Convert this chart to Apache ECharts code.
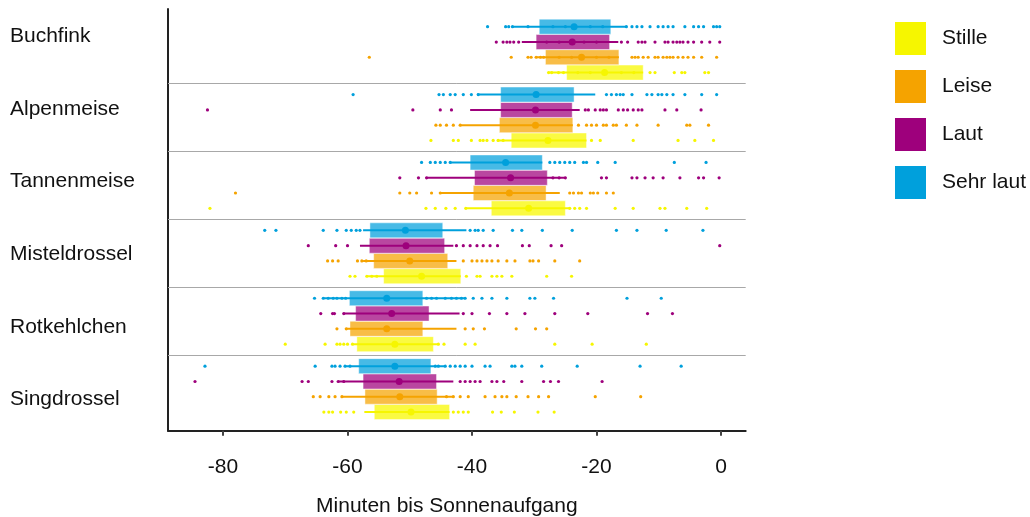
<!DOCTYPE html>
<html><head><meta charset="utf-8">
<script src="https://cdn.jsdelivr.net/npm/echarts@6/dist/echarts.min.js"></script>
<style>html,body{margin:0;padding:0;background:#fff}#c{width:1030px;height:517px}</style>
</head><body><div id="c"></div>
<script>
// ---------- DATA ----------
const species = ['Buchfink','Alpenmeise','Tannenmeise','Misteldrossel','Rotkehlchen','Singdrossel'];
const levels = ['Stille','Leise','Laut','Sehr laut'];
const xTicks = [-80,-60,-40,-20,0];

// box stats per species: [whisker low, q1, median, q3, whisker high]
const stilleBox = [
  [-27.7,-24.8,-18.7,-12.5,-12.5],
  [-36.0,-33.7,-27.8,-21.6,-21.6],
  [-41.0,-36.9,-30.9,-25.0,-24.3],
  [-56.9,-54.2,-48.1,-41.8,-41.8],
  [-59.2,-58.5,-52.4,-46.2,-45.4],
  [-57.3,-55.7,-49.8,-43.6,-43.6]
];
const leiseBox = [
  [-29.7,-28.2,-22.4,-16.4,-16.4],
  [-41.9,-35.6,-29.8,-23.8,-23.8],
  [-45.1,-39.8,-34.0,-28.1,-25.9],
  [-57.5,-55.8,-50.0,-43.9,-42.5],
  [-60.2,-59.6,-53.7,-47.9,-42.5],
  [-61.0,-57.2,-51.6,-45.6,-43.0]
];
const lautBox = [
  [-32.0,-29.7,-23.9,-17.9,-16.5],
  [-40.3,-35.4,-29.8,-23.9,-22.7],
  [-47.3,-39.6,-33.8,-27.9,-25.0],
  [-58.0,-56.5,-50.6,-44.4,-43.0],
  [-60.6,-58.7,-52.9,-46.9,-42.0],
  [-61.5,-57.5,-51.7,-45.7,-43.0]
];
const sehrLautBox = [
  [-33.5,-29.2,-23.6,-17.7,-15.2],
  [-39.2,-35.4,-29.7,-23.6,-20.2],
  [-43.5,-40.3,-34.6,-28.7,-28.7],
  [-57.5,-56.4,-50.7,-44.7,-40.9],
  [-63.9,-59.7,-53.7,-47.9,-41.1],
  [-60.4,-58.2,-52.4,-46.6,-44.3]
];

// individual observations per species
const stillePoints = [
  [-27.7,-27.2,-26.1,-25.3,-23,-21,-16,-14,-11.4,-10.6,-7.5,-6.3,-5.8,-2.6,-2.0],
  [-46.6,-43.0,-42.2,-40.1,-38.7,-38.2,-37.6,-36.6,-35.8,-35.0,-20.8,-19.4,-14.1,-6.9,-4.2,-1.2],
  [-82.1,-47.4,-45.9,-44.2,-42.7,-41.0,-24.3,-23.5,-22.7,-21.6,-17.0,-14.1,-9.8,-9.0,-5.5,-2.3],
  [-59.6,-58.8,-56.9,-56.1,-55.3,-40.9,-39.2,-38.7,-36.8,-36.0,-35.2,-33.6,-28.0,-24.0],
  [-70.0,-63.6,-61.7,-61.2,-60.6,-60.0,-59.2,-45.4,-44.5,-41.1,-39.5,-26.7,-20.7,-12.0],
  [-63.8,-63.0,-62.4,-61.1,-60.2,-59.0,-43.0,-42.2,-41.4,-40.6,-36.7,-35.3,-33.2,-29.4,-26.8]
];
const leisePoints = [
  [-56.5,-33.7,-31.0,-30.5,-29.7,-29.0,-28.5,-26,-24,-20,-18,-14.3,-13.8,-13.3,-12.5,-11.7,-10.6,-10.1,-9.3,-8.7,-8.2,-7.7,-6.9,-6.1,-5.3,-4.4,-3.1,-0.7],
  [-45.8,-45.1,-44.1,-43.0,-41.9,-22.9,-21.6,-20.8,-20.0,-18.9,-18.4,-17.3,-16.8,-15.2,-13.5,-10.1,-5.5,-5.0,-2.0],
  [-78.0,-51.6,-50.0,-48.9,-46.5,-45.1,-24.3,-23.7,-22.9,-22.4,-21.0,-20.5,-19.8,-18.4,-17.3],
  [-63.2,-62.4,-61.5,-58.4,-57.7,-57.0,-41.4,-40.0,-39.2,-38.4,-37.6,-36.8,-35.8,-34.4,-33.1,-30.7,-30.2,-29.3,-26.7,-22.7],
  [-61.7,-60.2,-41.1,-39.8,-38.0,-32.9,-29.8,-28.0],
  [-65.5,-64.4,-63.0,-62.0,-60.9,-44.1,-43.0,-41.9,-40.6,-37.9,-36.3,-35.2,-34.4,-32.9,-31.0,-29.3,-27.7,-20.2,-12.9]
];
const lautPoints = [
  [-36.1,-35.0,-34.4,-33.9,-33.3,-32.5,-28,-26,-22,-20,-16.0,-15.0,-13.3,-12.7,-12.2,-10.6,-9.0,-8.5,-7.7,-7.1,-6.6,-6.1,-5.3,-4.4,-3.1,-1.8,-0.2],
  [-82.5,-49.5,-45.1,-43.3,-21.8,-21.3,-20.2,-19.4,-18.9,-18.4,-16.5,-15.7,-15.0,-14.1,-13.3,-12.7,-9.0,-7.1,-3.2],
  [-51.6,-48.6,-47.3,-27,-26,-25,-19.2,-18.4,-14.3,-13.5,-12.2,-10.9,-9.3,-6.6,-3.6,-2.8,-0.3],
  [-66.3,-61.9,-60.0,-42.5,-41.4,-40.3,-39.2,-38.2,-37.1,-35.9,-31.9,-30.8,-27.3,-25.6,-0.2],
  [-64.3,-62.4,-62.1,-60.6,-41.4,-40.0,-37.2,-34.4,-31.5,-26.7,-21.4,-11.8,-7.8],
  [-84.5,-67.3,-66.3,-62.5,-61.5,-60.6,-41.9,-41.1,-40.3,-39.5,-38.7,-36.8,-36.0,-34.9,-32.0,-28.5,-27.4,-26.1,-19.1]
];
const sehrLautPoints = [
  [-37.5,-34.6,-34.1,-33.5,-31,-27,-25,-21,-19,-15.2,-14.3,-13.5,-12.7,-11.4,-10.1,-9.3,-8.5,-7.7,-5.8,-4.4,-3.6,-2.8,-1.2,-0.7,-0.2],
  [-59.1,-45.3,-44.6,-43.5,-42.7,-41.4,-40.1,-39.0,-18.4,-17.6,-16.8,-16.2,-15.7,-14.3,-11.9,-11.1,-10.1,-9.5,-8.7,-7.7,-5.8,-3.1,-0.7],
  [-48.1,-46.7,-45.9,-45.1,-44.3,-43.5,-27.5,-26.7,-25.9,-25.1,-24.3,-23.5,-22.1,-21.6,-19.8,-17.0,-7.5,-2.4],
  [-73.3,-71.5,-63.9,-61.7,-60.2,-59.4,-58.6,-58.0,-40.3,-39.5,-39.0,-38.2,-36.6,-33.5,-32.0,-28.7,-23.9,-16.8,-13.5,-8.8,-2.9],
  [-65.3,-63.9,-63.1,-62.3,-61.7,-60.9,-60.3,-47.3,-46.5,-45.7,-44.3,-43.3,-42.5,-41.7,-41.1,-39.8,-38.4,-36.8,-34.4,-30.7,-29.9,-26.9,-15.1,-9.6],
  [-82.9,-65.2,-62.5,-62.0,-61.2,-60.4,-59.6,-45.9,-45.4,-44.3,-43.5,-42.7,-41.9,-41.1,-40.0,-37.9,-37.1,-33.6,-33.1,-32.0,-28.8,-23.1,-13.0,-6.4]
];

// ---------- STYLE / LAYOUT ----------
const FONT = "'Liberation Sans', Arial, Helvetica, sans-serif";
const colors = {'Stille':'#f6f600','Leise':'#f5a300','Laut':'#9e007c','Sehr laut':'#00a0dc'};
const fills  = {'Stille':'rgba(248,248,0,0.74)','Leise':'rgba(245,163,0,0.72)','Laut':'rgba(158,0,124,0.72)','Sehr laut':'rgba(0,160,220,0.72)'};
const rowOffset = {'Sehr laut':-0.338,'Laut':-0.112,'Leise':0.112,'Stille':0.338};
const boxes = {'Stille':stilleBox,'Leise':leiseBox,'Laut':lautBox,'Sehr laut':sehrLautBox};
const points = {'Stille':stillePoints,'Leise':leisePoints,'Laut':lautPoints,'Sehr laut':sehrLautPoints};

function renderBox(level){
  const c = colors[level], f = fills[level];
  return function(params, api){
    const y = api.value(5);
    const lo = api.coord([api.value(0), y]);
    const q1 = api.coord([api.value(1), y]);
    const md = api.coord([api.value(2), y]);
    const q3 = api.coord([api.value(3), y]);
    const hi = api.coord([api.value(4), y]);
    const h = 15;
    return {type:'group', children:[
      {type:'rect', shape:{x:q1[0], y:q1[1]-h/2, width:q3[0]-q1[0], height:h},
       style:{fill:f, stroke:'rgba(255,255,255,0.45)', lineWidth:1}},
      {type:'line', shape:{x1:lo[0], y1:lo[1], x2:hi[0], y2:hi[1]}, style:{stroke:c, lineWidth:2}},
      {type:'circle', shape:{cx:md[0], cy:md[1], r:3.5}, style:{fill:c}}
    ]};
  };
}

const series = [];
levels.forEach((lv, li) => {
  series.push({
    type:'custom', name:lv, xAxisIndex:0, yAxisIndex:0, z:2,
    renderItem: renderBox(lv),
    itemStyle:{color:colors[lv]},
    encode:{x:[0,1,2,3,4], y:5},
    data: boxes[lv].map((b, s) => b.concat([s + rowOffset[lv]])),
    markLine: li === 0 ? {
      silent:true, symbol:['none','none'], label:{show:false},
      lineStyle:{color:'#a8a8a8', width:1, type:'solid'},
      data: species.slice(1).map((_, i) => ({yAxis: i + 0.5}))
    } : undefined
  });
  const pts = [];
  points[lv].forEach((arr, s) => arr.forEach(v => pts.push([v, s + rowOffset[lv]])));
  series.push({
    type:'scatter', name:lv, xAxisIndex:0, yAxisIndex:0, z:3,
    symbol:'circle', symbolSize:3.2, itemStyle:{color:colors[lv], opacity:1},
    data: pts
  });
});

const chart = echarts.init(document.getElementById('c'), null, {renderer:'canvas'});
chart.setOption({
  animation:false,
  backgroundColor:'#fff',
  textStyle:{fontFamily:FONT},
  legend:{
    orient:'vertical', left:890, top:17, itemWidth:31, itemHeight:33, itemGap:15,
    icon:'rect', data: levels,
    textStyle:{fontSize:21, color:'#111', fontFamily:FONT, padding:[0,0,0,11]}
  },
  grid:[
    {left:168, right:284.3, top:9, bottom:86.3, containLabel:false, outerBoundsMode:'none'},
    {left:168, right:284.3, top:0, height:436, containLabel:false, outerBoundsMode:'none'}
  ],
  xAxis:[
    {type:'value', gridIndex:0, min:-88.84, max:3.97,
     axisLine:{show:true, onZero:false, lineStyle:{color:'#222', width:2}},
     axisTick:{show:true, customValues:xTicks, length:5, lineStyle:{color:'#444', width:2}},
     axisLabel:{customValues:xTicks, fontSize:21, color:'#111', margin:26, fontFamily:FONT},
     splitLine:{show:false},
     name:'Minuten bis Sonnenaufgang', nameLocation:'middle', nameGap:65,
     nameTextStyle:{fontSize:21, color:'#111', fontFamily:FONT, padding:[0,20,0,0]}},
    {type:'value', gridIndex:1, show:false}
  ],
  yAxis:[
    {type:'value', gridIndex:0, min:-0.5985, max:5.613, inverse:true,
     axisLine:{show:true, onZero:false, lineStyle:{color:'#222', width:2}},
     axisTick:{show:false}, axisLabel:{show:false}, splitLine:{show:false}},
    {type:'category', gridIndex:1, data:species, inverse:true,
     axisLine:{show:false}, axisTick:{show:false}, splitLine:{show:false},
     axisLabel:{align:'left', margin:158, fontSize:21, color:'#111', fontFamily:FONT}}
  ],
  series: series
});
</script></body></html>
